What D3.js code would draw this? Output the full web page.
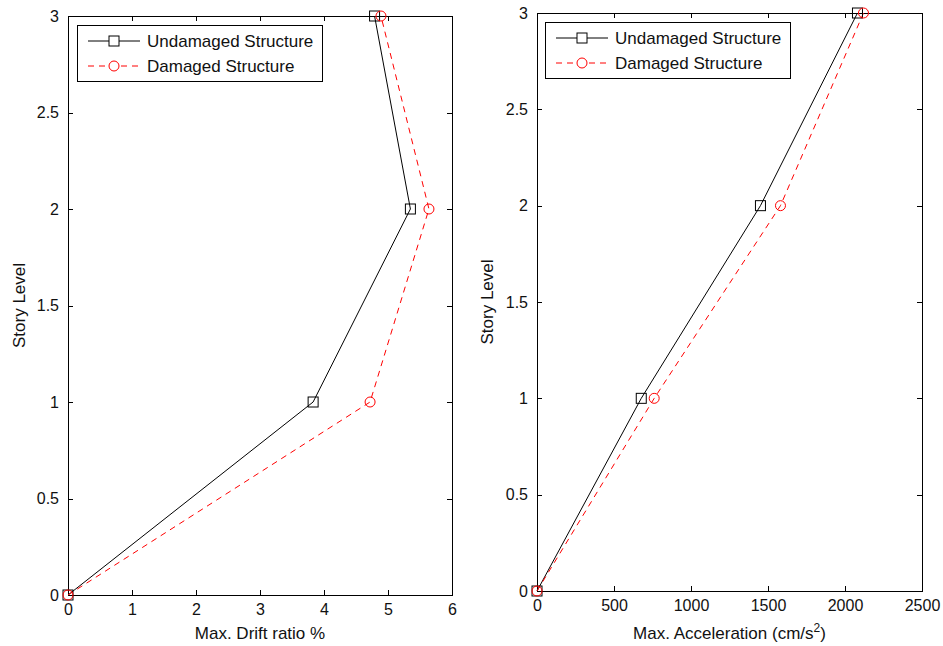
<!DOCTYPE html>
<meta charset="utf-8">
<style>
body { margin: 0; background: #fff; }
text { font-family: "Liberation Sans", Arial, sans-serif; font-size: 17px; fill: #111; }
.frame { fill: none; stroke: #000; stroke-width: 1; shape-rendering: crispEdges; }
.tick line { stroke: #000; shape-rendering: crispEdges; }
.line1 { fill: none; stroke: #000; stroke-width: 1; }
.line2 { fill: none; stroke: red; stroke-width: 1; stroke-dasharray: 6,5; }
</style>
<body>
<script src="https://d3js.org/d3.v7.min.js"></script>
<script>
// story levels
var levels = [0, 1, 2, 3];

// drift ratio %
var driftUndamaged = [0, 3.83, 5.35, 4.79];
var driftDamaged = [0, 4.72, 5.64, 4.89];

// acceleration cm/s^2
var accUndamaged = [0, 677, 1451, 2081];
var accDamaged = [0, 761, 1581, 2120];

var yTicks = [0, 0.5, 1, 1.5, 2, 2.5, 3];
var driftTicks = [0, 1, 2, 3, 4, 5, 6];
var accTicks = [0, 500, 1000, 1500, 2000, 2500];

var seriesNames = ["Undamaged Structure", "Damaged Structure"];

var svg = d3.select("body").append("svg")
    .attr("width", 943)
    .attr("height", 646);

function drawPanel(opt) {
    var x = d3.scaleLinear().domain(opt.xDomain).range([opt.left, opt.right]);
    var y = d3.scaleLinear().domain([0, 3]).range([opt.bottom, opt.top]);
    var g = svg.append("g");

    // axes with inward ticks on all four sides
    g.append("g")
        .attr("transform", "translate(0," + opt.bottom + ")")
        .call(d3.axisBottom(x).tickValues(opt.xTicks).tickSizeInner(-5).tickSizeOuter(0).tickPadding(9).tickFormat(d3.format("d")))
        .call(function(a) { a.select(".domain").remove(); });
    g.append("g")
        .attr("transform", "translate(0," + opt.top + ")")
        .call(d3.axisTop(x).tickValues(opt.xTicks).tickSizeInner(-5).tickSizeOuter(0).tickFormat(""))
        .call(function(a) { a.select(".domain").remove(); });
    g.append("g")
        .attr("transform", "translate(" + opt.left + ",0)")
        .call(d3.axisLeft(y).tickValues(yTicks).tickSizeInner(-5).tickSizeOuter(0).tickPadding(9).tickFormat(d3.format("")))
        .call(function(a) { a.select(".domain").remove(); });
    g.append("g")
        .attr("transform", "translate(" + opt.right + ",0)")
        .call(d3.axisRight(y).tickValues(yTicks).tickSizeInner(-5).tickSizeOuter(0).tickFormat(""))
        .call(function(a) { a.select(".domain").remove(); });
    g.selectAll(".tick text").style("font-size", "16px").attr("fill", "#111");

    g.append("rect").attr("class", "frame")
        .attr("x", opt.left).attr("y", opt.top)
        .attr("width", opt.right - opt.left).attr("height", opt.bottom - opt.top);

    var line = d3.line()
        .x(function(d) { return x(d[0]); })
        .y(function(d) { return y(d[1]); });

    var d1 = levels.map(function(l, i) { return [opt.a[i], l]; });
    var d2 = levels.map(function(l, i) { return [opt.b[i], l]; });

    g.append("path").attr("class", "line1").attr("d", line(d1));
    g.append("path").attr("class", "line2").attr("d", line(d2));

    g.selectAll(".sq").data(d1).enter().append("rect")
        .attr("x", function(d) { return x(d[0]) - 5; })
        .attr("y", function(d) { return y(d[1]) - 5; })
        .attr("width", 10).attr("height", 10)
        .attr("fill", "none").attr("stroke", "#000");
    g.selectAll(".ci").data(d2).enter().append("circle")
        .attr("cx", function(d) { return x(d[0]); })
        .attr("cy", function(d) { return y(d[1]); })
        .attr("r", 5)
        .attr("fill", "none").attr("stroke", "red");

    // axis labels
    var xl = g.append("text")
        .attr("x", (opt.left + opt.right) / 2)
        .attr("y", 639)
        .attr("text-anchor", "middle")
        .text(opt.xLabel);
    if (opt.sup) {
        xl.append("tspan").attr("dy", -7).style("font-size", "12px").text(opt.sup);
        xl.append("tspan").attr("dy", 7).text(")");
    }
    g.append("text")
        .attr("transform", "translate(" + opt.yLabelX + "," + ((opt.top + opt.bottom) / 2) + ") rotate(-90)")
        .attr("text-anchor", "middle")
        .text("Story Level");

    // legend
    var lg = g.append("g").attr("transform", "translate(" + opt.legX + "," + opt.legY + ")");
    lg.append("rect").attr("class", "frame")
        .attr("width", 245).attr("height", 56).attr("fill", "#fff");
    [0, 1].forEach(function(i) {
        var yy = 16 + i * 25;
        lg.append("line").attr("class", i === 0 ? "line1" : "line2")
            .attr("x1", 11).attr("x2", 63).attr("y1", yy).attr("y2", yy);
        if (i === 0) {
            lg.append("rect").attr("x", 32).attr("y", yy - 5).attr("width", 10).attr("height", 10)
                .attr("fill", "#fff").attr("stroke", "#000");
        } else {
            lg.append("circle").attr("cx", 37).attr("cy", yy).attr("r", 5)
                .attr("fill", "#fff").attr("stroke", "red");
        }
        lg.append("text").attr("x", 70).attr("y", yy + 6).text(seriesNames[i]);
    });
}

drawPanel({
    left: 68, right: 452, top: 16, bottom: 595,
    xDomain: [0, 6], xTicks: driftTicks,
    a: driftUndamaged, b: driftDamaged,
    xLabel: "Max. Drift ratio %", yLabelX: 25,
    legX: 77, legY: 25
});

drawPanel({
    left: 537, right: 922, top: 13, bottom: 591,
    xDomain: [0, 2500], xTicks: accTicks,
    a: accUndamaged, b: accDamaged,
    xLabel: "Max. Acceleration (cm/s", sup: "2", yLabelX: 493,
    legX: 545, legY: 22
});
</script>
</body>
